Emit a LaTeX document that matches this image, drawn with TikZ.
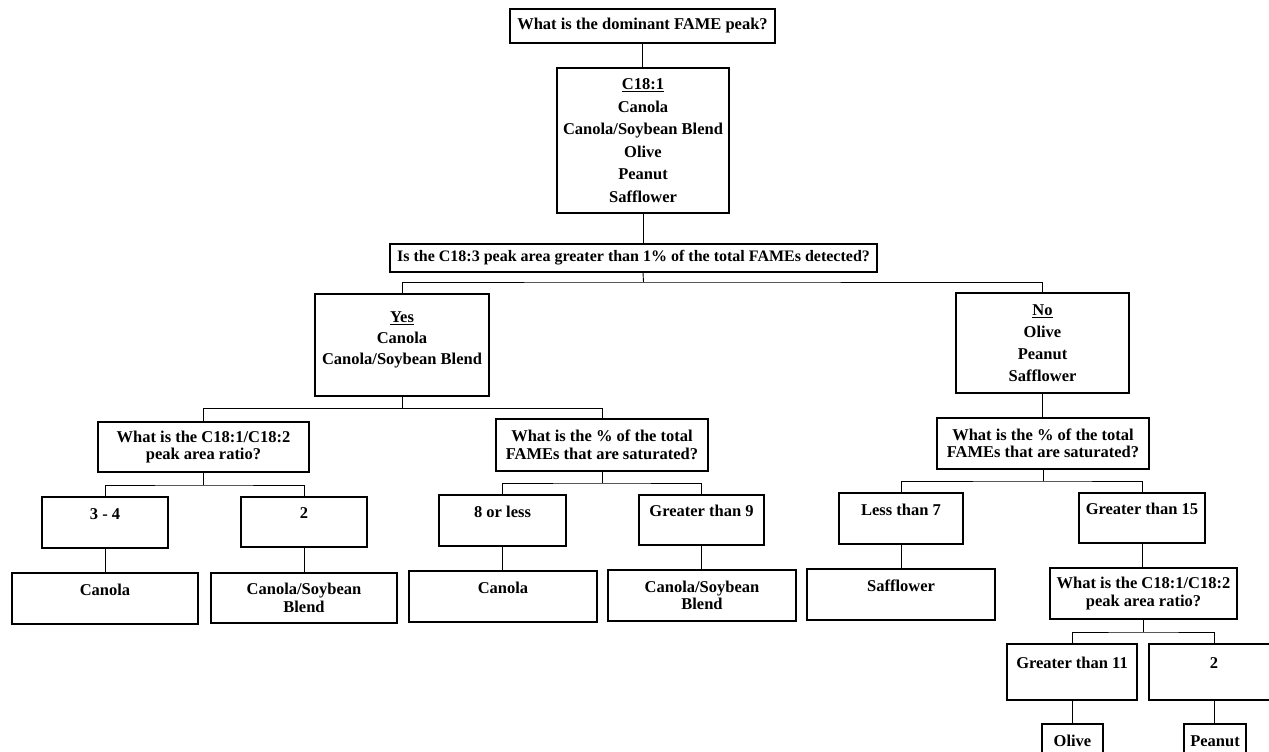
\documentclass[tikz,border=0pt]{standalone}
\usepackage{fontspec}
\setmainfont{Liberation Serif}
\tikzset{
  box/.style={draw, line width=1.2pt, inner sep=0pt, align=center,
    font=\fontsize{16.5}{17.5}\selectfont\bfseries},
  listA/.style={box, font=\fontsize{16.5}{22.5}\selectfont\bfseries},
  listB/.style={box, font=\fontsize{16.5}{21}\selectfont\bfseries},
  listC/.style={box, font=\fontsize{16.5}{22}\selectfont\bfseries},
  qone/.style={box, font=\fontsize{16}{17.5}\selectfont\bfseries},
  sz/.style 2 args={minimum width=#1pt, minimum height=#2pt},
  conn/.style={line width=0.9pt},
}
\begin{document}
\begin{tikzpicture}[x=1pt,y=-1pt]
\path[use as bounding box, clip] (0,0) rectangle (1269,752);
\fill[white] (0,0) rectangle (1269,752);

% nodes
\node[box, sz={265}{34}] (top) at (642.5,26) {What is the dominant FAME peak?};
\node[listA, sz={172}{145}] (c181) at (643,140.5)
  {\underline{C18:1}\\Canola\\Canola/Soybean Blend\\Olive\\Peanut\\Safflower};
\node[qone, sz={487}{28}] (q1) at (633.5,258)
  {Is the C18:3 peak area greater than 1\% of the total FAMEs detected?};
\node[listB, sz={174}{102}] (yes) at (402,345)
  {\underline{Yes}\\Canola\\Canola/Soybean Blend\\[-8pt]\mbox{}};
\node[listC, sz={173}{100}] (no) at (1042.5,343)
  {\underline{No}\\Olive\\Peanut\\Safflower};

\node[box, sz={211}{50}] (qL) at (203.5,447) {What is the C18:1/C18:2\\peak area ratio?};
\node[box, sz={212}{52}] (qM) at (602,445) {What is the \% of the total\\FAMEs that are saturated?};
\node[box, sz={212}{51}] (qR) at (1043,443.5) {What is the \% of the total\\FAMEs that are saturated?};

\node[box, sz={126}{51}] (b34) at (105,522.5) {3 - 4\\\mbox{}};
\node[box, sz={126}{50}] (b2) at (304,522) {2\\\mbox{}};
\node[box, sz={127}{51}] (b8) at (502.5,520.5) {8 or less\\\mbox{}};
\node[box, sz={125}{50}] (bg9) at (701.5,520) {Greater than 9\\\mbox{}};
\node[box, sz={124}{51}] (blt7) at (901,518.5) {Less than 7\\\mbox{}};
\node[box, sz={126}{50}] (bg15) at (1142,518) {Greater than 15\\\mbox{}};

\node[box, sz={186}{51}] (can1) at (105,598.5) {Canola\\\mbox{}};
\node[box, sz={186}{50}] (bl1) at (304,598) {Canola/Soybean\\Blend};
\node[box, sz={188}{51}] (can2) at (503,596.5) {Canola\\\mbox{}};
\node[box, sz={188}{51}] (bl2) at (702,595.5) {Canola/Soybean\\Blend};
\node[box, sz={188}{51}] (saff) at (901,594.5) {Safflower\\\mbox{}};
\node[box, sz={187}{51}] (qR2) at (1143.5,593.5) {What is the C18:1/C18:2\\peak area ratio?};

\node[box, sz={130}{56}] (bg11) at (1072,672) {Greater than 11\\\mbox{}};
\node[box, sz={130}{56}] (b2r) at (1214,672) {2\\\mbox{}};
\node[box, sz={61}{51}] (olive) at (1072.5,749.5) {Olive\\\mbox{}};
\node[box, sz={62}{51}] (peanut) at (1215,749.5) {Peanut\\\mbox{}};

% connectors
\draw[conn] (top.south) -- (top.south |- c181.north);
\draw[conn] (c181.south) -- (c181.south |- q1.north);
\coordinate (j1) at (643.5,282);
\draw[conn] (c181.south |- q1.south) -- (j1);
\draw[conn] (yes.north) |- (j1) -| (no.north);

\coordinate (j2) at (402,408.5);
\draw[conn] (yes.south) -- (j2);
\draw[conn] (qL.north) |- (j2) -| (qM.north);

\coordinate (j3) at (203.5,485);
\draw[conn] (qL.south) -- (j3);
\draw[conn] (b34.north) |- (j3) -| (b2.north);

\coordinate (j4) at (602,483);
\draw[conn] (qM.south) -- (j4);
\draw[conn] (b8.north) |- (j4) -| (bg9.north);

\draw[conn] (b34.south) -- (b34.south |- can1.north);
\draw[conn] (b2.south) -- (b2.south |- bl1.north);
\draw[conn] (b8.south) -- (b8.south |- can2.north);
\draw[conn] (bg9.south) -- (bg9.south |- bl2.north);

\draw[conn] (no.south) -- (no.south |- qR.north);
\coordinate (j5) at (1043,481);
\draw[conn] (qR.south) -- (j5);
\draw[conn] (blt7.north) |- (j5) -| (bg15.north);
\draw[conn] (blt7.south) -- (blt7.south |- saff.north);
\draw[conn] (bg15.south) -- (bg15.south |- qR2.north);

\coordinate (j6) at (1143.5,632);
\draw[conn] (qR2.south) -- (j6);
\draw[conn] (bg11.north) |- (j6) -| (b2r.north);
\draw[conn] (bg11.south) -- (bg11.south |- olive.north);
\draw[conn] (b2r.south) -- (b2r.south |- peanut.north);
\end{tikzpicture}
\end{document}
